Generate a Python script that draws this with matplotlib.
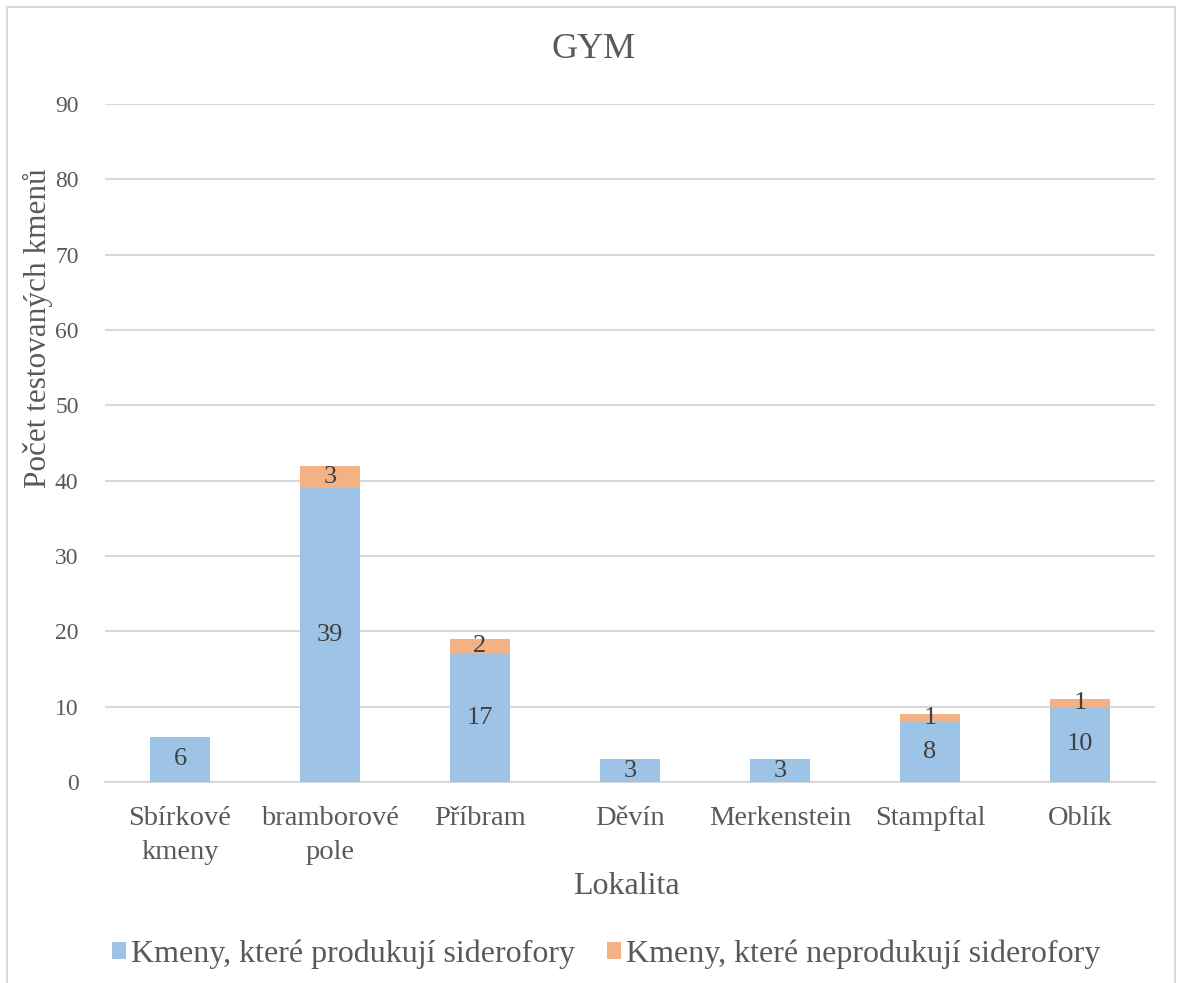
import matplotlib
matplotlib.use("Agg")
import matplotlib.pyplot as plt
from matplotlib.patches import Rectangle

categories = ["Sbírkové\nkmeny", "bramborové\npole", "Příbram", "Děvín",
              "Merkenstein", "Stampftal", "Oblík"]
producing = [6, 39, 17, 3, 3, 8, 10]
non_producing = [0, 3, 2, 0, 0, 1, 1]
series_names = ["Kmeny, které produkují siderofory",
                "Kmeny, které neprodukují siderofory"]
y_ticks = [0, 10, 20, 30, 40, 50, 60, 70, 80, 90]

plt.rcParams["font.family"] = ["Liberation Serif", "DejaVu Serif"]

BLUE = "#9DC3E6"
ORANGE = "#F4B183"
GRID = "#D9D9D9"
TXT = "#595959"
LBL = "#404040"

fig = plt.figure(figsize=(11.82, 9.83), dpi=100)
ax = fig.add_axes([105 / 1182, 201 / 983, 1050 / 1182, 678 / 983])

x = list(range(len(categories)))
b1 = ax.bar(x, producing, width=0.4, color=BLUE, zorder=3, label=series_names[0])
b2 = ax.bar(x, non_producing, width=0.4, bottom=producing, color=ORANGE, zorder=3,
            label=series_names[1])

for i in x:
    if producing[i] > 0:
        ax.text(i, producing[i] / 2, str(producing[i]), ha="center", va="center",
                fontsize=19, color=LBL, zorder=4)
    if non_producing[i] > 0:
        ax.text(i, producing[i] + non_producing[i] / 2, str(non_producing[i]),
                ha="center", va="center", fontsize=19, color=LBL, zorder=4)

ax.set_xlim(-0.5, len(categories) - 0.5)
ax.set_ylim(0, 90)
ax.set_yticks(y_ticks)
ax.set_yticklabels([str(t) for t in y_ticks], fontsize=17, color=TXT)
ax.set_xticks(x)
ax.set_xticklabels(categories, fontsize=20.5, color=TXT, linespacing=1.5)
ax.tick_params(axis="y", length=0, pad=19)
ax.tick_params(axis="x", length=0, pad=17)
ax.grid(axis="y", color=GRID, linewidth=1.5, zorder=0)
for s in ["top", "right", "left"]:
    ax.spines[s].set_visible(False)
ax.spines["bottom"].set_color(GRID)
ax.spines["bottom"].set_linewidth(1.5)

fig.text(594 / 1182, 1 - 50 / 983, "GYM", ha="center", va="center",
         fontsize=26, color=TXT)
fig.text(38 / 1182, 1 - 328 / 983, "Počet testovaných kmenů", ha="center",
         va="center", rotation=90, fontsize=22.5, color=TXT)
fig.text(626 / 1182, 1 - 886 / 983, "Lokalita", ha="center", va="center",
         fontsize=23, color=TXT)

leg = fig.legend(handles=[b1, b2], labels=series_names, loc="center",
                 bbox_to_anchor=(606 / 1182, 1 - 954 / 983), ncol=2, frameon=False,
                 fontsize=23, handlelength=0.45, handleheight=0.45,
                 handletextpad=0.15, columnspacing=1.0)
for t in leg.get_texts():
    t.set_color(TXT)

fig.patches.append(Rectangle((7 / 1182, -0.01), 1168 / 1182, 1 - 7 / 983 + 0.01,
                             transform=fig.transFigure, fill=False,
                             edgecolor=GRID, linewidth=1.5))

fig.savefig("out.png", dpi=100)
